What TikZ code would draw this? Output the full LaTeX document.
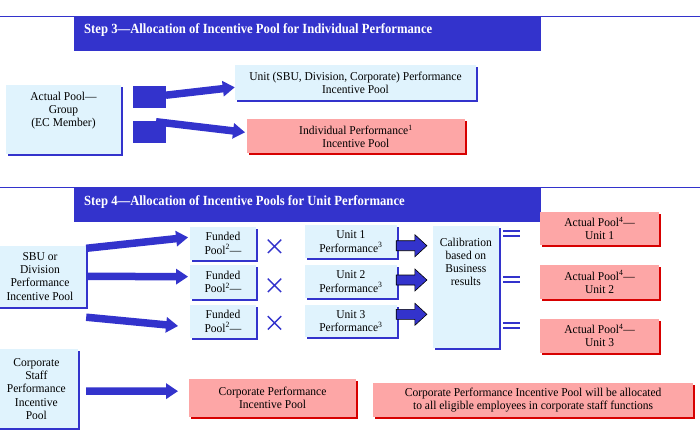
\documentclass[tikz,border=0pt]{standalone}
\usepackage{fontspec}
\setmainfont[FakeStretch=0.96]{Liberation Serif}
\newfontfamily\ttlfont[FakeStretch=0.905]{Liberation Serif}
\usetikzlibrary{arrows.meta,shapes.misc,shadows,calc}
\definecolor{sblue}{RGB}{51,51,204}
\definecolor{lblue}{RGB}{224,243,253}
\definecolor{pinkc}{RGB}{253,166,166}
\definecolor{rshad}{RGB}{215,0,0}
\begin{document}
\begin{tikzpicture}[x=1pt,y=-1pt,
  txt/.style={inner sep=0,align=center,font=\fontsize{12}{13.3}\selectfont},
  bshad/.style={drop shadow={shadow xshift=2pt,shadow yshift=-2pt,fill=sblue,opacity=1}},
  rshadow/.style={drop shadow={shadow xshift=2pt,shadow yshift=-2pt,fill=rshad,opacity=1}},
  lbox/.style={txt,fill=lblue,bshad},
  pbox/.style={txt,fill=pinkc,rshadow},
  bar/.style={fill=sblue,inner sep=0},
  ttl/.style={inner sep=0,anchor=base west,text=white,font=\ttlfont\bfseries\fontsize{14}{16}\selectfont},
  rule/.style={draw=sblue,line width=1.6pt},
  fat/.style={draw=sblue,line width=7.5pt,-{Triangle[width=15pt,length=12pt]}},
  blk/.style={draw=black,line width=0.6pt,fill=sblue},
  xmark/.style={cross out,draw=sblue,line width=1.4pt,minimum size=12pt,inner sep=0},
  eqs/.style={minimum width=17pt,minimum height=9pt,inner sep=0,
    path picture={\draw[sblue,line width=1.8pt]
      ([yshift=2.5pt]path picture bounding box.west) -- ([yshift=2.5pt]path picture bounding box.east)
      ([yshift=-2.5pt]path picture bounding box.west) -- ([yshift=-2.5pt]path picture bounding box.east);}},
  sq/.style={fill=sblue,inner sep=0,minimum width=33pt,minimum height=21.7pt}
]
\useasboundingbox (0,0) rectangle (700,431);

% ---------- Step 3 ----------
\draw[rule] (0,16.3) -- (700,16.3);
\node[bar,minimum width=467pt,minimum height=34.2pt] (bar3) at (307.5,33.6) {};
\node[ttl] (t3) at (84,33.3) {Step 3—Allocation of Incentive Pool for Individual Performance};

\node[lbox,minimum width=115pt,minimum height=69pt] (ap) at (63.5,119.5) {};
\node[txt,anchor=north] (apt) at (63.5,91.8) {Actual Pool—\\Group\\(EC Member)};

\node[sq] (sq1) at (149.2,96.8) {};
\node[sq] (sq2) at (149.2,131.8) {};

\node[lbox,minimum width=241pt,minimum height=35pt] (unit) at (355.5,82.5)
  {Unit (SBU, Division, Corporate) Performance\\Incentive Pool};
\node[pbox,minimum width=218.3pt,minimum height=34pt] (ind) at (355.9,136.3)
  {Individual Performance\textsuperscript{1}\\Incentive Pool};

\draw[fat] ($(sq1.east)+(0,-1.6)$) -- ($(unit.west)+(0,4.8)$);
\draw[fat] ($(sq2.north)+(6.8,1)$) -- ($(ind.west)+(-1.5,-4)$);

% ---------- Step 4 ----------
\draw[rule] (0,187.3) -- (700,187.3);
\node[bar,minimum width=466.7pt,minimum height=34.8pt] (bar4) at (307.35,204.9) {};
\node[ttl] (t4) at (84,205.3) {Step 4—Allocation of Incentive Pools for Unit Performance};

\node[lbox,minimum width=92pt,minimum height=60.7pt] (sbu) at (40,276.35)
  {SBU or\\Division\\Performance\\Incentive Pool};

\node[lbox,minimum width=66pt,minimum height=33.5pt] (f1) at (223,243.35) {Funded\\Pool\textsuperscript{2}—};
\node[lbox,minimum width=66pt,minimum height=33.5pt] (f2) at (223,282.15) {Funded\\Pool\textsuperscript{2}—};
\node[lbox,minimum width=66pt,minimum height=33.5pt] (f3) at (223,321.35) {Funded\\Pool\textsuperscript{2}—};

\node[xmark] (x1) at (274.5,246.3) {};
\node[xmark] (x2) at (274.5,285.3) {};
\node[xmark] (x3) at (274.5,322.8) {};

\node[lbox,minimum width=91.7pt,minimum height=32.5pt] (u1) at (350.85,241.5) {Unit 1\\Performance\textsuperscript{3}};
\node[lbox,minimum width=91.7pt,minimum height=32.5pt] (u2) at (350.85,281.65) {Unit 2\\Performance\textsuperscript{3}};
\node[lbox,minimum width=91.7pt,minimum height=32.5pt] (u3) at (350.85,320.85) {Unit 3\\Performance\textsuperscript{3}};

\node[lbox,minimum width=66.3pt,minimum height=122.3pt] (cal) at (465.85,287.15) {};
\node[txt,anchor=north] (calt) at (465.85,237.5) {Calibration\\based on\\Business\\results};

\draw[blk] ($(u1.east)+(-0.7,4.2)$) ++(0,-5) -- ++(18.7,0) -- ++(0,-6) -- ++(12,11) -- ++(-12,11) -- ++(0,-6) -- ++(-18.7,0) -- cycle;
\draw[blk] ($(u2.east)+(-0.7,-1.65)$) ++(0,-5) -- ++(18.7,0) -- ++(0,-6) -- ++(12,11) -- ++(-12,11) -- ++(0,-6) -- ++(-18.7,0) -- cycle;
\draw[blk] ($(u3.east)+(-0.7,-6.55)$) ++(0,-5) -- ++(18.7,0) -- ++(0,-6) -- ++(12,11) -- ++(-12,11) -- ++(0,-6) -- ++(-18.7,0) -- cycle;

\node[eqs] (e1) at (511.7,233.2) {};
\node[eqs] (e2) at (511.7,279.2) {};
\node[eqs] (e3) at (511.7,325.2) {};

\node[pbox,minimum width=119.3pt,minimum height=33.5pt] (a1) at (599.65,228.35) {Actual Pool\textsuperscript{4}—\\Unit 1};
\node[pbox,minimum width=119.3pt,minimum height=34pt] (a2) at (599.65,282) {Actual Pool\textsuperscript{4}—\\Unit 2};
\node[pbox,minimum width=119.3pt,minimum height=34pt] (a3) at (599.65,335.5) {Actual Pool\textsuperscript{4}—\\Unit 3};

\node[lbox,minimum width=82.7pt,minimum height=79pt] (cs) at (36.35,388.8)
  {Corporate\\Staff\\Performance\\Incentive\\Pool};
\node[pbox,minimum width=166.5pt,minimum height=38.3pt] (cp) at (272.55,398.15)
  {Corporate Performance\\Incentive Pool};
\node[pbox,minimum width=319.7pt,minimum height=34pt] (cl) at (533.15,400.3)
  {Corporate Performance Incentive Pool will be allocated\\to all eligible employees in corporate staff functions};

\draw[fat] ($(sbu.north east)+(0,2.5)$) -- ($(f1.west)+(-1.7,-6)$);
\draw[fat] (sbu.east) -- ($(f2.west)+(-1.7,-5.5)$);
\draw[fat] ($(sbu.south east)+(0,10.3)$) -- ($(f3.west)+(-11.7,4.65)$);
\draw[fat] ($(cs.east)+(8.3,2.4)$) -- ($(cp.west)+(-11,-7)$);
\end{tikzpicture}
\end{document}
